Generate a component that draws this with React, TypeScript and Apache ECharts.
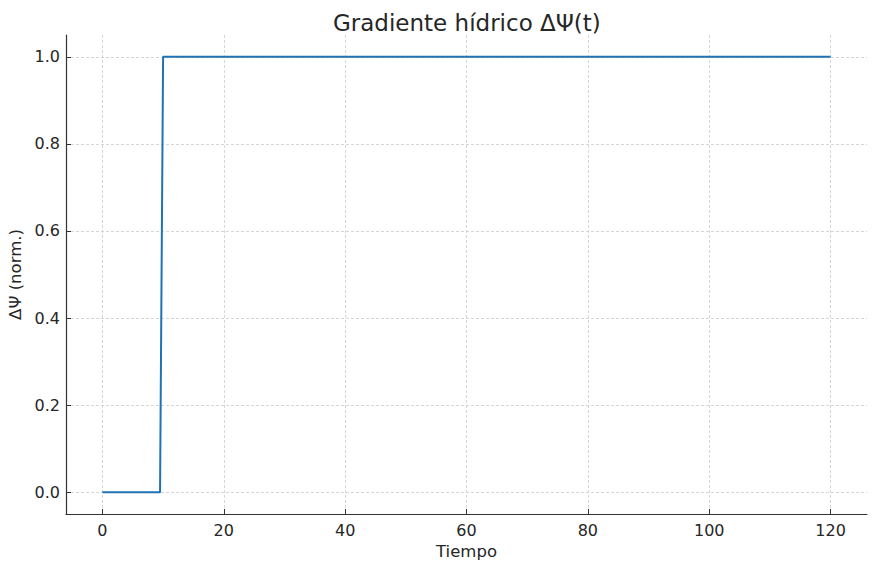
import React, { useEffect, useRef } from "react";
import * as echarts from "echarts";

const tiempo = [0, 9.5, 10, 120];
const deltaPsi = [0, 0, 1, 1];
const xTicks = [0, 20, 40, 60, 80, 100, 120];
const yTicks = [0, 0.2, 0.4, 0.6, 0.8, 1.0];

const FONT = "DejaVu Sans";
const TXT = "#262626";

export default function App() {
  const ref = useRef<HTMLDivElement>(null);
  useEffect(() => {
    const chart = echarts.init(ref.current!, null, { renderer: "svg" });
    chart.setOption({
      animation: false,
      backgroundColor: "#ffffff",
      title: {
        text: "Gradiente hídrico ΔΨ(t)",
        left: 328,
        top: 6,
        textStyle: { fontFamily: FONT, fontSize: 23, fontWeight: "normal", color: TXT },
      },
      grid: { left: 66, right: 11, top: 35, bottom: 56, outerBoundsMode: "none", containLabel: false },
      xAxis: {
        type: "value",
        min: -6,
        max: 126,
        name: "Tiempo",
        nameLocation: "middle",
        nameGap: 27,
        nameTextStyle: { fontFamily: FONT, fontSize: 16.5, color: TXT },
        axisLine: { show: true, onZero: false, lineStyle: { color: "#333", width: 1.2 } },
        axisTick: { show: true, inside: true, length: 5, lineStyle: { color: "#333" }, customValues: xTicks },
        axisLabel: { fontFamily: FONT, fontSize: 16, color: TXT, margin: 8, customValues: xTicks },
        splitLine: { show: true, lineStyle: { color: "#cccccc", type: [3, 2], width: 0.8 } },
      },
      yAxis: {
        type: "value",
        min: -0.05,
        max: 1.05,
        name: "ΔΨ (norm.)",
        nameLocation: "middle",
        nameGap: 36,
        nameTextStyle: { fontFamily: FONT, fontSize: 16.5, color: TXT },
        axisLine: { show: true, onZero: false, lineStyle: { color: "#333", width: 1.2 } },
        axisTick: { show: true, inside: true, length: 5, lineStyle: { color: "#333" }, customValues: yTicks },
        axisLabel: {
          fontFamily: FONT,
          fontSize: 16,
          color: TXT,
          margin: 6,
          customValues: yTicks,
          formatter: (v: number) => v.toFixed(1),
        },
        splitLine: { show: true, lineStyle: { color: "#cccccc", type: [3, 2], width: 0.8 } },
      },
      series: [
        {
          type: "line",
          data: tiempo.map((t, i) => [t, deltaPsi[i]]),
          showSymbol: false,
          lineStyle: { color: "#1f72b4", width: 2 },
        },
      ],
    });
    return () => chart.dispose();
  }, []);
  return (
    <div
      ref={ref}
      style={{ position: "absolute", left: 0, top: 0, width: 878, height: 570 }}
    />
  );
}
